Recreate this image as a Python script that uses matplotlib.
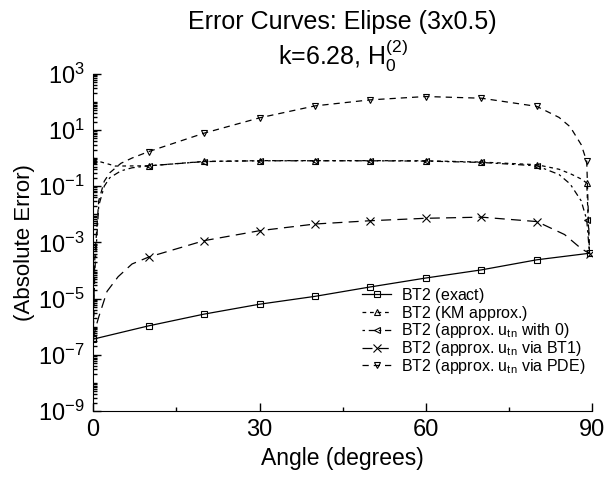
import numpy as np
import matplotlib
matplotlib.use("Agg")
import matplotlib.pyplot as plt
from matplotlib.ticker import LogLocator, FixedLocator, NullFormatter

plt.rcParams['font.family'] = ['Liberation Sans', 'DejaVu Sans']
plt.rcParams['mathtext.fontset'] = 'custom'
plt.rcParams['mathtext.rm'] = 'Liberation Sans'
plt.rcParams['mathtext.it'] = 'Liberation Sans'
plt.rcParams['mathtext.default'] = 'regular'

# exact
ang_exact = [0, 10, 20, 30, 40, 50, 60, 70, 80, 89.5]
err_exact = [3.6e-7, 1.07e-6, 2.8e-6, 6.3e-6, 1.2e-5, 2.6e-5, 5.4e-5, 1.05e-4, 2.4e-4, 4.1e-4]
mk_exact = [0, 1, 2, 3, 4, 5, 6, 7, 8, 9]

# KM approx
ang_km = [0, 4, 10, 20, 30, 40, 50, 60, 70, 80, 84, 86, 88, 89, 89.5]
err_km = [0.87, 0.52, 0.53, 0.76, 0.81, 0.81, 0.81, 0.80, 0.72, 0.58, 0.40, 0.28, 0.18, 0.13, 4e-4]
mk_km = [0, 2, 3, 4, 5, 6, 7, 8, 9, 13]

# approx u_tn with 0
ang_w0 = [0, 0.3, 1, 2, 3, 5, 7, 10, 20, 30, 40, 50, 60, 70, 80, 84, 86, 88, 89, 89.5]
err_w0 = [3.6e-7, 1e-4, 0.02, 0.1, 0.2, 0.35, 0.45, 0.53, 0.75, 0.80, 0.80, 0.80, 0.78, 0.70, 0.53,
          0.26, 0.12, 0.03, 6.3e-3, 4e-4]
mk_w0 = [7, 8, 9, 10, 11, 12, 13, 14, 18]

# approx u_tn via BT1
ang_bt1 = [0, 0.5, 1, 2.5, 4.5, 7, 10, 20, 30, 40, 50, 60, 70, 80, 85, 88, 89.5]
err_bt1 = [3.6e-7, 1e-6, 2.2e-6, 1.8e-5, 6e-5, 1.7e-4, 3e-4, 1.15e-3, 2.6e-3, 4.5e-3, 5.9e-3,
           7.2e-3, 7.9e-3, 5.5e-3, 1.9e-3, 6e-4, 4e-4]
mk_bt1 = [6, 7, 8, 9, 10, 11, 12, 13, 16]

# approx u_tn via PDE
ang_pde = [0, 0.3, 1, 2, 3, 5, 7, 10, 20, 30, 40, 50, 60, 70, 80, 84, 86, 88, 89, 89.5]
err_pde = [3.6e-7, 3e-4, 0.03, 0.15, 0.3, 0.65, 1.0, 1.7, 7.7, 27, 72, 118, 155, 135, 69,
           28, 13, 3.0, 0.76, 4e-4]
mk_pde = [7, 8, 9, 10, 11, 12, 13, 14, 18]

fig = plt.figure(figsize=(6.05, 4.79), dpi=100)
ax = fig.add_axes([0.154, 0.142, 0.825, 0.704])

lw = 0.9
ms = 5
ax.plot(ang_exact, err_exact, color='black', lw=lw, ls='-', marker='s', ms=ms,
        mfc='none', mec='black', mew=0.8, markevery=mk_exact,
        label=r'BT2 (exact)$_{\,}$')
ax.plot(ang_km, err_km, color='black', lw=lw, ls=(0, (3, 3)), marker='^', ms=ms,
        mfc='none', mec='black', mew=0.8, markevery=mk_km,
        label=r'BT2 (KM approx.)$_{\,}$')
ax.plot(ang_w0, err_w0, color='black', lw=lw, ls=(0, (2, 3, 5, 3)), marker='<', ms=ms,
        mfc='none', mec='black', mew=0.8, markevery=mk_w0,
        label='BT2 (approx. u$_{tn}$ with 0)')
ax.plot(ang_bt1, err_bt1, color='black', lw=lw, ls=(0, (8, 5)), marker='x', ms=ms + 1,
        mfc='none', mec='black', mew=0.8, markevery=mk_bt1,
        label='BT2 (approx. u$_{tn}$ via BT1)')
ax.plot(ang_pde, err_pde, color='black', lw=lw, ls=(0, (5, 4)), marker='v', ms=ms,
        mfc='none', mec='black', mew=0.8, markevery=mk_pde,
        label='BT2 (approx. u$_{tn}$ via PDE)')

ax.set_yscale('log')
ax.set_xlim(0, 90)
ax.set_ylim(1e-9, 1e3)
ax.set_xticks([0, 30, 60, 90])
ax.xaxis.set_minor_locator(FixedLocator([15, 45, 75]))
ax.yaxis.set_major_locator(FixedLocator([1e-9, 1e-7, 1e-5, 1e-3, 1e-1, 1e1, 1e3]))
ax.yaxis.set_minor_locator(LogLocator(base=10, subs=np.arange(1, 10), numticks=30))
ax.yaxis.set_minor_formatter(NullFormatter())

for s in ['top', 'right']:
    ax.spines[s].set_visible(False)
ax.tick_params(which='both', direction='in', labelsize=17, width=1)
ax.tick_params(which='major', length=6, pad=6)
ax.tick_params(which='minor', length=3)

ax.set_xlabel('Angle (degrees)', fontsize=16.5, labelpad=4)
ax.set_ylabel('(Absolute Error)', fontsize=16, labelpad=2)
ax.set_title('Error Curves: Elipse (3x0.5)\nk=6.28, H$_0^{(2)}$', fontsize=18,
             pad=4, linespacing=1.1)

ax.legend(loc='lower right', frameon=False, fontsize=11.5, handlelength=1.8,
          handletextpad=0.6, labelspacing=-0.08, borderaxespad=0.0,
          bbox_to_anchor=(0.998, 0.085))

fig.savefig('out.png', dpi=100)
